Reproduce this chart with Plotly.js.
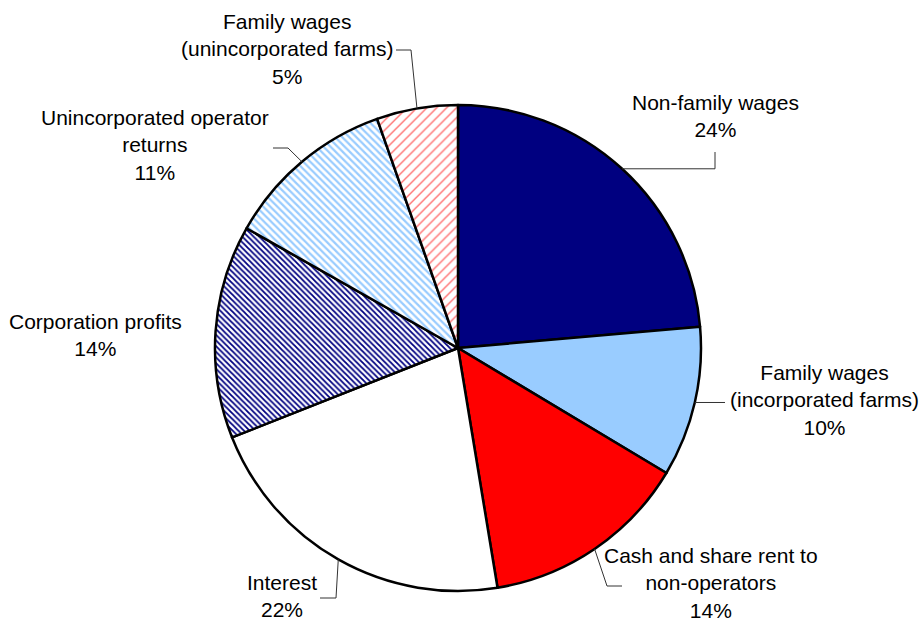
<!DOCTYPE html>
<html>
<head>
<meta charset="utf-8">
<script src="https://cdn.plot.ly/plotly-3.0.1.min.js"></script>
<style>html,body{margin:0;padding:0;background:#fff;}#chart{width:922px;height:623px;}</style>
</head>
<body>
<div id="chart"></div>
<script>
// ---- data ----
const categories = [
  "Non-family wages",
  "Family wages<br>(incorporated farms)",
  "Cash and share rent to<br>non-operators",
  "Interest",
  "Corporation profits",
  "Unincorporated operator<br>returns",
  "Family wages<br>(unincorporated farms)"
];
const shares = [23.6, 10.0, 13.8, 21.6, 14.2, 11.4, 5.4];

// ---- styles ----
const fillColors   = ["#000080", "#99ccff", "#ff0000", "#ffffff", "#ffffff", "#ffffff", "#ffffff"];
const patternShape = ["", "", "", "", "\\", "\\", "/"];
const patternFg    = ["#000080", "#99ccff", "#ff0000", "#ffffff", "#000080", "#99ccff", "#ff7070"];
const patternSize  = [6, 6, 6, 6, 4, 5, 7];
const patternSolid = [0.3, 0.3, 0.3, 0.3, 0.45, 0.45, 0.2];

// label text positions (pixel centres of the text block) and leader line knees
const labelPos = [[715,116],[824,400],[711,583],[282,596],[95,335],[155,145],[287,49]];
const leaderKnees = [
  [[715,"edge"],[715,152]],
  [[725,"edge"]],
  [[607,586],[622,586]],
  [[336,598],[320,598]],
  null,
  [[288,148],[273,148]],
  [[411,50],[396,50]]
];

const W = 922, H = 623;
const M = {l:0, r:6, t:105, b:32};
const pw = W - M.l - M.r, ph = H - M.t - M.b;
const cx = M.l + pw/2, cy = M.t + ph/2, R = Math.min(pw, ph)/2;
const px2x = p => (p - M.l)/pw;
const py2y = p => 1 - (p - M.t)/ph;

const total = shares.reduce((a,b)=>a+b,0);
const annotations = [];
const shapes = [];
let cum = 0;
shares.forEach((v,i) => {
  const mid = (cum + v/2)/total * 2*Math.PI;
  cum += v;
  const ex = cx + R*Math.sin(mid), ey = cy - R*Math.cos(mid);
  const pct = Math.round(v/total*100) + "%";
  annotations.push({
    x: px2x(labelPos[i][0]), y: py2y(labelPos[i][1]),
    xref: "paper", yref: "paper", xanchor: "center", yanchor: "middle",
    text: categories[i] + "<br>" + pct, showarrow: false, align: "center",
    font: {family: "Liberation Sans, Arial, sans-serif", size: 21, color: "#000"}
  });
  if (leaderKnees[i]) {
    let d = "M " + px2x(ex) + " " + py2y(ey);
    leaderKnees[i].forEach(pt => {
      const yy = pt[1] === "edge" ? ey : pt[1];
      d += " L " + px2x(pt[0]) + " " + py2y(yy);
    });
    shapes.push({type: "path", xref: "paper", yref: "paper", path: d,
      line: {color: "#333", width: 1}});
  }
});

const trace = {
  type: "pie",
  labels: categories,
  values: shares,
  sort: false,
  direction: "clockwise",
  rotation: 0,
  textinfo: "none",
  hoverinfo: "label+percent",
  marker: {
    colors: fillColors,
    line: {color: "#000", width: 2.5},
    pattern: {shape: patternShape, fgcolor: patternFg, bgcolor: "#ffffff",
      size: patternSize, solidity: patternSolid}
  },
  domain: {x: [0,1], y: [0,1]}
};

const layout = {
  width: W, height: H,
  margin: M,
  showlegend: false,
  paper_bgcolor: "#fff",
  annotations: annotations,
  shapes: shapes
};

Plotly.newPlot("chart", [trace], layout, {displayModeBar: false, staticPlot: true});
</script>
</body>
</html>
